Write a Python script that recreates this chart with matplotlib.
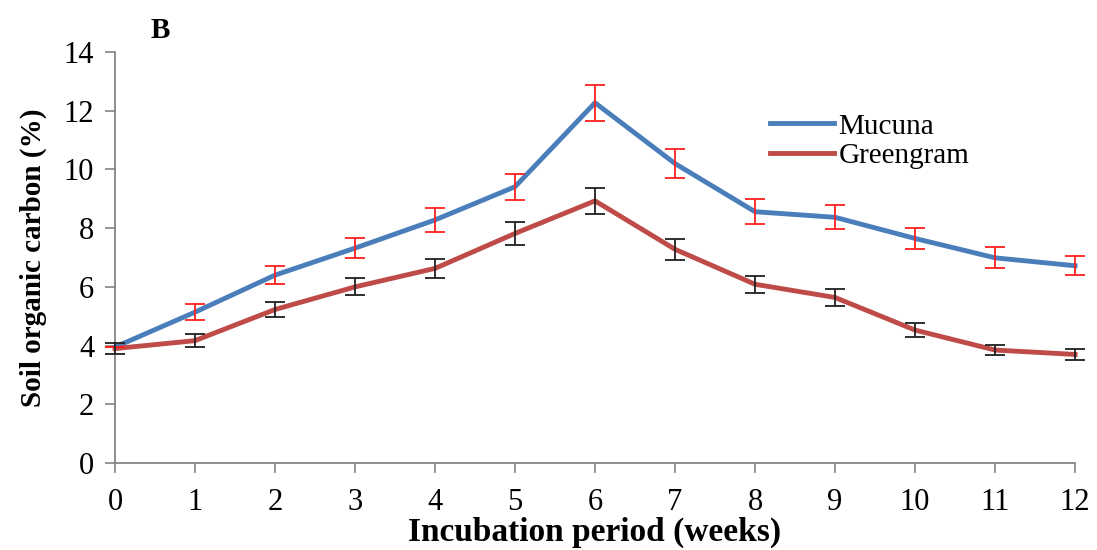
import matplotlib.pyplot as plt
import numpy as np

plt.rcParams['font.family'] = ['Liberation Serif', 'DejaVu Serif']

weeks = np.arange(0, 13)
mucuna = [3.95, 5.14, 6.40, 7.32, 8.28, 9.41, 12.27, 10.20, 8.56, 8.37, 7.65, 6.99, 6.72]
mucuna_err = [0.0, 0.27, 0.31, 0.35, 0.42, 0.45, 0.62, 0.50, 0.43, 0.41, 0.37, 0.36, 0.33]
greengram = [3.90, 4.17, 5.23, 6.00, 6.63, 7.82, 8.93, 7.28, 6.09, 5.64, 4.53, 3.85, 3.70]
greengram_err = [0.19, 0.21, 0.27, 0.29, 0.33, 0.39, 0.44, 0.35, 0.29, 0.29, 0.23, 0.18, 0.19]

fig = plt.figure(figsize=(10.97, 5.5), dpi=100)
ax = fig.add_axes([0.1048, 0.158, 0.8752, 0.7475])

ax.plot(weeks, mucuna, color='#4A7EBB', lw=3.5, label='Mucuna', clip_on=False, zorder=3)
ax.plot(weeks, greengram, color='#BE4B48', lw=3.5, label='Greengram', clip_on=False, zorder=3)
ax.errorbar(weeks, mucuna, yerr=mucuna_err, fmt='none', ecolor='#FF2020',
            elinewidth=1.3, capsize=7, capthick=1.3, clip_on=False, zorder=4)
ax.errorbar(weeks, greengram, yerr=greengram_err, fmt='none', ecolor='#202020',
            elinewidth=1.3, capsize=7, capthick=1.3, clip_on=False, zorder=4)

ax.set_xlim(0, 12)
ax.set_ylim(0, 14)
ax.set_xticks(weeks)
ax.set_yticks(np.arange(0, 15, 2))
ax.tick_params(axis='both', direction='out', length=7, width=1.2, color='#868686',
               labelsize=22)
ax.tick_params(axis='x', pad=11)
ax.tick_params(axis='y', pad=8)
for s in ['top', 'right']:
    ax.spines[s].set_visible(False)
for s in ['left', 'bottom']:
    ax.spines[s].set_color('#868686')
    ax.spines[s].set_linewidth(1.3)

ax.set_xlabel('Incubation period (weeks)', fontsize=24, fontweight='bold', labelpad=0)
ax.set_ylabel('Soil organic carbon (%)', fontsize=21, fontweight='bold', labelpad=12)

leg = ax.legend(loc='upper left', bbox_to_anchor=(0.682, 0.851), frameon=False,
                fontsize=21, handlelength=2.2, handletextpad=0.15, labelspacing=0.1,
                borderaxespad=0, borderpad=0)

fig.text(0.146, 0.945, 'B', fontsize=21, fontweight='bold', va='center', ha='center')

fig.savefig('out.png', dpi=100)
